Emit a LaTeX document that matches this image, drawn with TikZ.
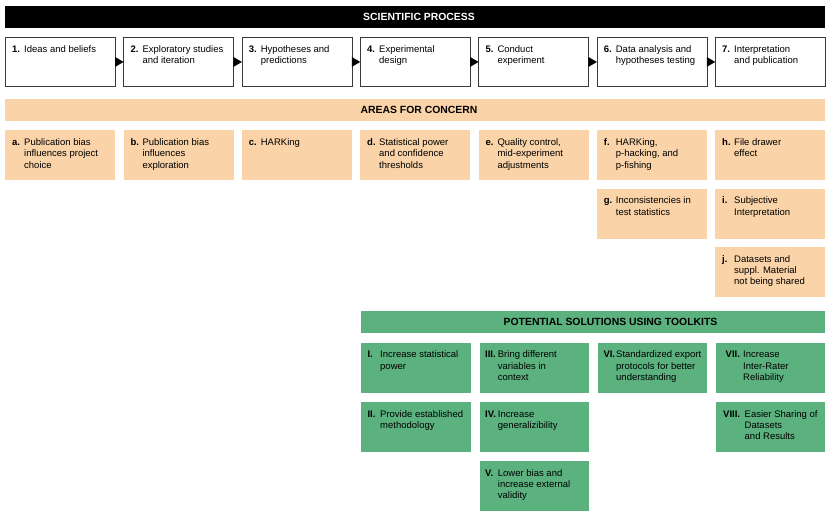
\documentclass[tikz,border=0pt]{standalone}
\usepackage{fontspec}
\setmainfont{Liberation Sans}
\usetikzlibrary{calc}
\definecolor{peach}{HTML}{FAD3A8}
\definecolor{sgreen}{HTML}{5BB27F}
\definecolor{bordergray}{HTML}{3A3A3A}
\newcommand\cell[8]{%
  \node[#2, anchor=north west] (#1) at (#3,#4) {};
  \node[anchor=base west, inner sep=0] (#1l) at ($(#1.north west)+(#7,15.5)$) {\textbf{#5}};
  \node[anchor=base west, inner sep=0] (#1t) at ($(#1.north west)+(#8,15.5)$) {\parbox[t]{100pt}{\raggedright #6}};
}
\begin{document}
\begin{tikzpicture}[x=1pt,y=-1pt,
  every node/.style={font=\fontsize{9.5}{11.3}\selectfont},
  procbox/.style={draw=bordergray, line width=0.9pt, fill=white, minimum width=110pt, minimum height=49pt, inner sep=0},
  areabox/.style={fill=peach, minimum width=110pt, minimum height=50pt, inner sep=0},
  solbox/.style={fill=sgreen, minimum width=109.5pt, minimum height=50pt, inner sep=0},
  header/.style={anchor=north west, inner sep=0},
  htext/.style={font=\fontsize{10.4}{12}\selectfont\bfseries}
]
\useasboundingbox (0,0) rectangle (830,521);
% headers
\node[header, fill=black, minimum width=820pt, minimum height=22pt] (hsp) at (5,6) {};
\node[htext, text=white] (hspt) at (419,17) {SCIENTIFIC PROCESS};
\node[header, fill=peach, minimum width=820pt, minimum height=22pt] (hac) at (5,99) {};
\node[htext] (hact) at (419,110) {AREAS FOR CONCERN};
\node[header, fill=sgreen, minimum width=464pt, minimum height=22pt] (hps) at (361,311) {};
\node[htext] (hpst) at (610.5,322) {POTENTIAL SOLUTIONS USING TOOLKITS};
% process boxes
\cell{p1}{procbox}{5}{37}{1.}{Ideas and beliefs}{7}{19}
\cell{p2}{procbox}{123.33}{37}{2.}{Exploratory studies\\and iteration}{7}{19}
\cell{p3}{procbox}{241.67}{37}{3.}{Hypotheses and\\predictions}{7}{19}
\cell{p4}{procbox}{360}{37}{4.}{Experimental\\design}{7}{19}
\cell{p5}{procbox}{478.33}{37}{5.}{Conduct\\experiment}{7}{19}
\cell{p6}{procbox}{596.67}{37}{6.}{Data analysis and\\hypotheses testing}{7}{19}
\cell{p7}{procbox}{715}{37}{7.}{Interpretation\\and publication}{7}{19}
% arrows
\foreach \a/\b in {p1/p2,p2/p3,p3/p4,p4/p5,p5/p6,p6/p7}{
  \fill ($(\a.east)+(-0.8,-5)$) -- ($(\b.west)+(0.2,0)$) -- ($(\a.east)+(-0.8,5)$) -- cycle;
}
% areas
\cell{a}{areabox}{5}{130}{a.}{Publication bias\\influences project\\choice}{7}{19}
\cell{b}{areabox}{123.33}{130}{b.}{Publication bias\\influences\\exploration}{7}{19}
\cell{c}{areabox}{241.67}{130}{c.}{HARKing}{7}{19}
\cell{d}{areabox}{360}{130}{d.}{Statistical power\\and confidence\\thresholds}{7}{19}
\cell{e}{areabox}{478.33}{130}{e.}{Quality control,\\mid-experiment\\adjustments}{7}{19}
\cell{f}{areabox}{596.67}{130}{f.}{HARKing,\\p-hacking, and\\p-fishing}{7}{19}
\cell{g}{areabox}{596.67}{188.33}{g.}{Inconsistencies in\\test statistics}{7}{19}
\cell{h}{areabox}{715}{130}{h.}{File drawer\\effect}{7}{19}
\cell{i}{areabox}{715}{188.33}{i.}{Subjective\\Interpretation}{7}{19}
\cell{j}{areabox}{715}{246.67}{j.}{Datasets and\\suppl. Material\\not being shared}{7}{19}
% solutions
\cell{s1}{solbox}{361}{342.3}{I.}{Increase statistical\\power}{6.3}{19}
\cell{s2}{solbox}{361}{401.7}{II.}{Provide established\\methodology}{6.3}{19}
\cell{s3}{solbox}{479.3}{342.3}{III.}{Bring different\\variables in\\context}{5.7}{18.4}
\cell{s4}{solbox}{479.3}{401.7}{IV.}{Increase\\generalizibility}{5.7}{18.4}
\cell{s5}{solbox}{479.3}{460.7}{V.}{Lower bias and\\increase external\\validity}{5.7}{18.4}
\cell{s6}{solbox}{597.3}{342.3}{VI.}{Standardized export\\protocols for better\\understanding}{6}{18.7}
\cell{s7}{solbox}{715.5}{342.3}{VII.}{Increase\\Inter-Rater\\Reliability}{10}{27.5}
\cell{s8}{solbox}{715.5}{401.7}{VIII.}{Easier Sharing of\\Datasets\\and Results}{7.5}{29}
\end{tikzpicture}
\end{document}
